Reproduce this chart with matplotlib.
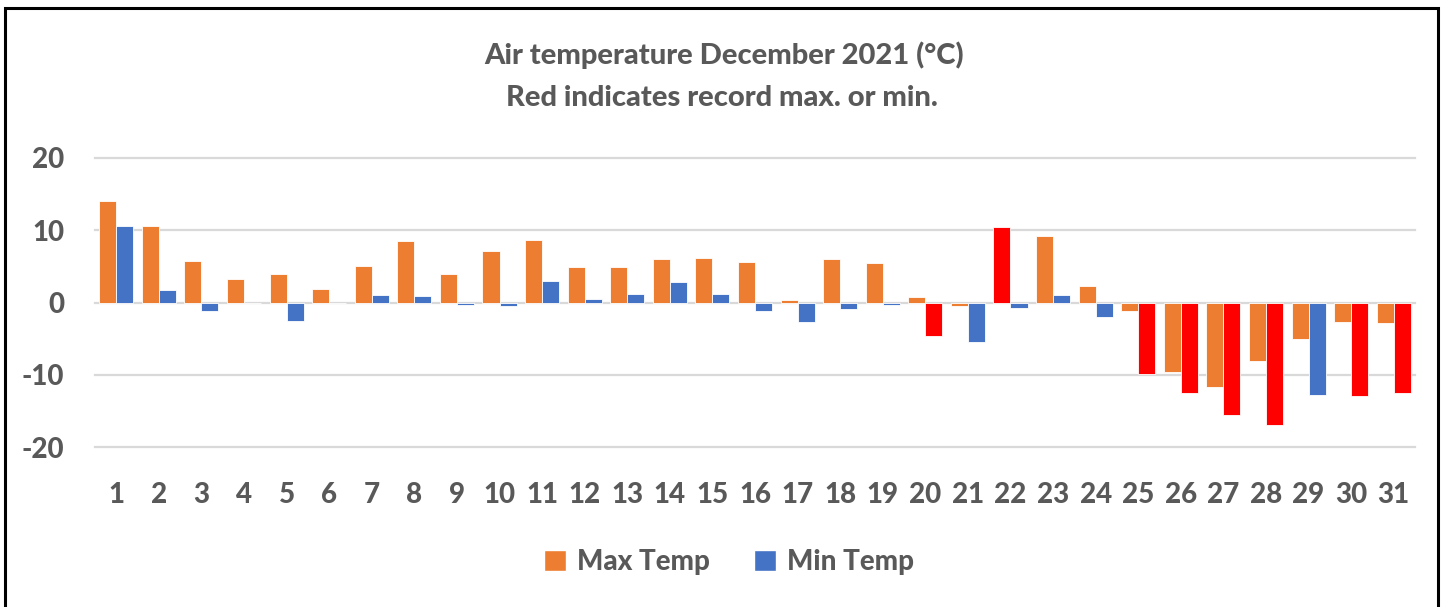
import matplotlib
matplotlib.use("Agg")
import matplotlib.pyplot as plt
from matplotlib.patches import Rectangle, Patch
import numpy as np

days = [str(d) for d in range(1, 32)]
max_temp = [14.1, 10.6, 5.8, 3.3, 4.0, 1.9, 5.1, 8.5, 4.0, 7.1,
            8.7, 4.9, 4.9, 6.0, 6.2, 5.6, 0.35, 6.0, 5.4, 0.7,
            -0.5, 10.5, 9.2, 2.3, -1.2, -9.6, -11.7, -8.1, -5.1, -2.7, -2.8]
min_temp = [10.6, 1.7, -1.2, 0.0, -2.6, 0.0, 1.1, 0.9, -0.4, -0.5,
            3.0, 0.5, 1.2, 2.8, 1.2, -1.2, -2.7, -0.9, -0.4, -4.7,
            -5.5, -0.75, 1.1, -2.0, -9.9, -12.5, -15.6, -16.9, -12.8, -13.0, -12.5]
# record flags (drawn in red)
max_record = [False] * 31
max_record[21] = True  # day 22
min_record = [False] * 31
for d in [20, 25, 26, 27, 28, 30, 31]:
    min_record[d - 1] = True

yticks = [-20, -10, 0, 10, 20]
title1 = "Air temperature December 2021 (°C)"
title2 = "Red indicates record max. or min."

ORANGE = "#ED7D31"
BLUE = "#4472C4"
RED = "#FF0000"
GREY = "#595959"
FONT = ["Lato", "DejaVu Sans"]
WEIGHT = 900

W, H = 1442, 607
fig = plt.figure(figsize=(W / 100, H / 100), dpi=100)
fig.patch.set_facecolor("white")

ax = fig.add_axes([95 / W, 1 - 447 / H, 1320 / W, (447 - 158) / H])
x = np.arange(len(days))
bw = 0.4
max_colors = [RED if r else ORANGE for r in max_record]
min_colors = [RED if r else BLUE for r in min_record]
ax.bar(x - bw / 2, max_temp, width=bw, color=max_colors, edgecolor="white", linewidth=0.6, zorder=3)
ax.bar(x + bw / 2, min_temp, width=bw, color=min_colors, edgecolor="white", linewidth=0.6, zorder=3)

ax.set_xlim(-0.5, len(days) - 0.5)
ax.set_ylim(-20, 20)
ax.set_yticks(yticks)
ax.set_yticklabels([str(t) for t in yticks])
ax.set_xticks(x)
ax.set_xticklabels(days)
for yv in yticks:
    ax.axhline(yv, color="#D9D9D9", linewidth=1.6, zorder=1, clip_on=False)
for s in ax.spines.values():
    s.set_visible(False)
ax.tick_params(axis="both", length=0, colors=GREY)
ax.tick_params(axis="y", pad=22)
ax.tick_params(axis="x", pad=25)
for lab in ax.get_xticklabels() + ax.get_yticklabels():
    lab.set_fontfamily(FONT)
    lab.set_fontweight(WEIGHT)
    lab.set_fontsize(20)
    lab.set_color(GREY)

fig.text(724 / W, 1 - 55 / H, title1, ha="center", va="center", fontsize=21,
         fontweight=WEIGHT, color=GREY, family=FONT)
fig.text(722 / W, 1 - 98 / H, title2, ha="center", va="center", fontsize=21,
         fontweight=WEIGHT, color=GREY, family=FONT)

handles = [Patch(facecolor=ORANGE, edgecolor="white", label="Max Temp"),
           Patch(facecolor=BLUE, edgecolor="white", label="Min Temp")]
leg = fig.legend(handles=handles, loc="center", bbox_to_anchor=(729 / W, 1 - 562 / H),
                 ncol=2, frameon=False, handlelength=0.8, handleheight=0.8,
                 handletextpad=0.4, columnspacing=1.6,
                 prop={"family": FONT, "weight": WEIGHT, "size": 20})
for t in leg.get_texts():
    t.set_color(GREY)

# outer border
fig.patches.append(Rectangle((5 / W, -0.05), (1438 - 5) / W, 1 - 8 / H + 0.05,
                             transform=fig.transFigure, fill=False,
                             edgecolor="black", linewidth=2.2))

fig.savefig("out.png", dpi=100)
